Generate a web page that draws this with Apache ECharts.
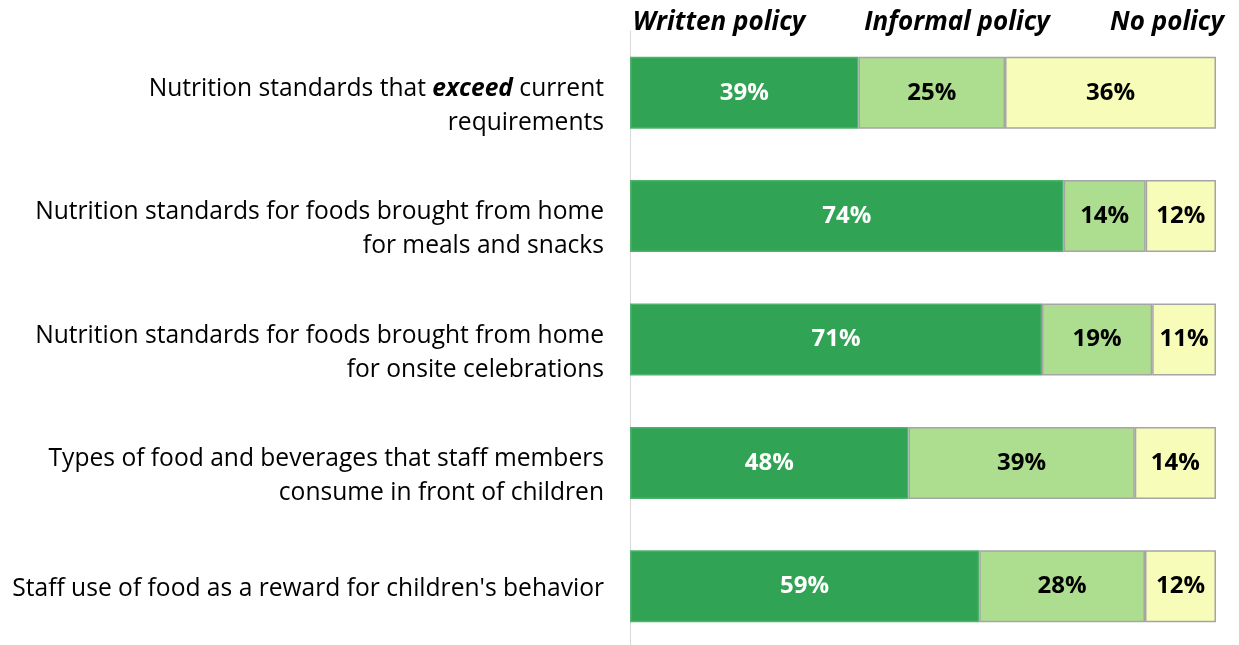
<!DOCTYPE html>
<html>
<head>
<meta charset="utf-8">
<script src="https://cdn.jsdelivr.net/npm/echarts@6/dist/echarts.min.js"></script>
<style>
  html, body { margin: 0; padding: 0; background: #ffffff; }
  #chart { width: 1239px; height: 645px; }
</style>
</head>
<body>
<div id="chart"></div>
<script>
// Policy topics (top to bottom)
const categories = [
  'Nutrition standards that exceed current\nrequirements',
  'Nutrition standards for foods brought from home\nfor meals and snacks',
  'Nutrition standards for foods brought from home\nfor onsite celebrations',
  'Types of food and beverages that staff members\nconsume in front of children',
  "Staff use of food as a reward for children's behavior"
];

// Share of programs (%) by policy type
const seriesNames = ['Written policy', 'Informal policy', 'No policy'];
const writtenPolicy = [39, 74, 71, 48, 59];
const informalPolicy = [25, 14, 19, 39, 28];
const noPolicy = [36, 12, 11, 14, 12];

const FONT = '"Open Sans", "Noto Sans", sans-serif';
const values = [writtenPolicy, informalPolicy, noPolicy];
const fills = ['#31a354', '#addd8e', '#f7fcb9'];
const edges = ['#4fb36c', '#a5a5a5', '#a5a5a5'];
const labelColors = ['#ffffff', '#000000', '#000000'];

// each bar spans the full width: segments are shares of the row's total
const rowTotals = categories.map((_, i) => values.reduce((s, arr) => s + arr[i], 0));

const chart = echarts.init(document.getElementById('chart'), null, { renderer: 'canvas' });

const series = seriesNames.map((name, k) => ({
  name,
  type: 'bar',
  stack: 'total',
  barWidth: 72,
  data: values[k].map((v, i) => v / rowTotals[i] * 100),
  itemStyle: { color: fills[k], borderColor: edges[k], borderWidth: 1.5 },
  label: {
    show: true,
    position: 'inside',
    formatter: p => values[k][p.dataIndex] + '%',
    color: labelColors[k],
    fontFamily: FONT,
    fontWeight: 'bold',
    fontSize: 24,
    padding: [4, 0, 0, 0]
  },
  emphasis: { disabled: true }
}));

// Column headings above the bars
const headings = [
  { text: seriesNames[0], x: 719 },
  { text: seriesNames[1], x: 957 },
  { text: seriesNames[2], x: 1167 }
];

chart.setOption({
  animation: false,
  backgroundColor: '#ffffff',
  grid: { left: 630, right: 23, top: 31, height: 617, outerBoundsMode: 'none' },
  xAxis: {
    type: 'value',
    min: 0,
    max: 100,
    show: false
  },
  yAxis: {
    type: 'category',
    inverse: true,
    data: categories.map(c => ({
      value: c,
      textStyle: { padding: c.indexOf('\n') >= 0 ? [26, 0, 0, 0] : [6, 0, 0, 0] }
    })),
    offset: 1,
    axisLine: { show: true, lineStyle: { color: '#d9d9d9', width: 1 } },
    axisTick: { show: false },
    axisLabel: {
      margin: 25,
      fontFamily: FONT,
      fontSize: 24.6,
      lineHeight: 34,
      color: '#000000',
      align: 'right',
      formatter: v => v.replace('exceed', '{e|exceed}'),
      rich: {
        e: { fontFamily: FONT, fontSize: 24.6, fontWeight: 'bold', fontStyle: 'italic', color: '#000000', lineHeight: 34 }
      }
    },
    splitLine: { show: false }
  },
  series,
  graphic: headings.map(h => ({
    type: 'text',
    x: h.x,
    y: 23,
    style: {
      text: h.text,
      fontFamily: FONT,
      fontSize: 26,
      fontWeight: 'bold',
      fontStyle: 'italic',
      fill: '#000000',
      align: 'center',
      verticalAlign: 'middle'
    }
  }))
});
</script>
</body>
</html>
